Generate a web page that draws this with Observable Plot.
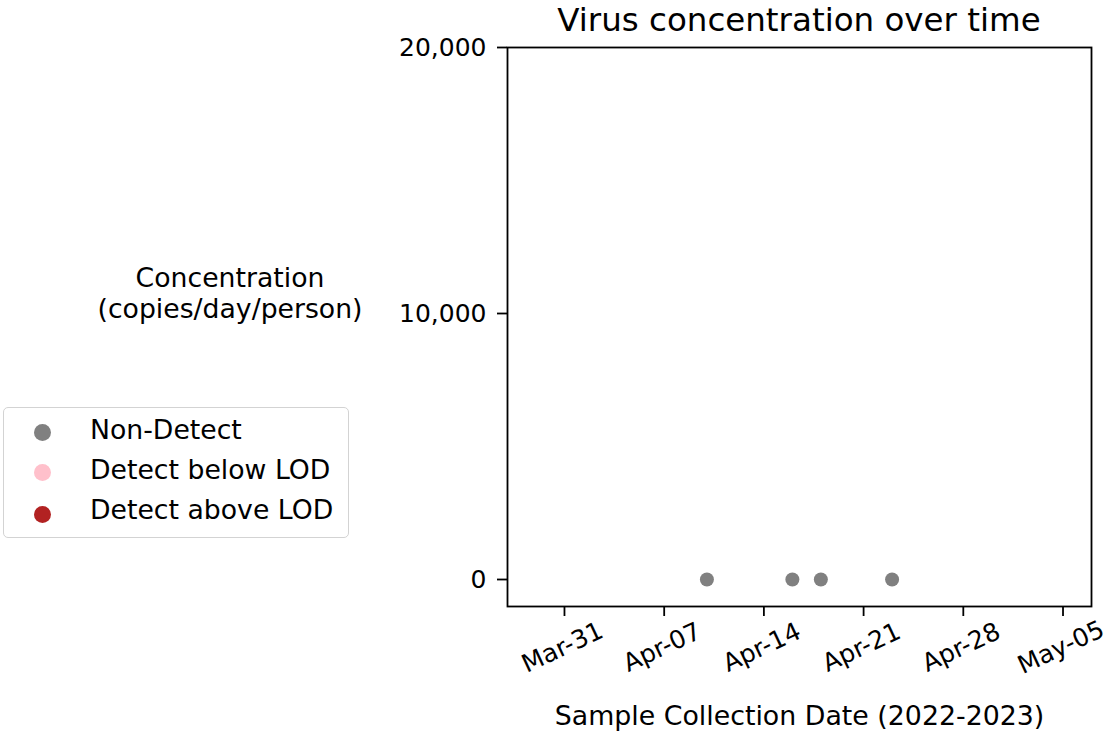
<!DOCTYPE html>
<html>
<head>
<meta charset="utf-8">
<script src="https://cdn.jsdelivr.net/npm/d3@7"></script>
<script src="https://cdn.jsdelivr.net/npm/@observablehq/plot@0.6"></script>
<style>
  html, body { margin: 0; padding: 0; background: #fff; }
  #wrap { position: relative; width: 1112px; height: 731px; font-family: "DejaVu Sans", sans-serif; color: #000; }
  #chart { position: absolute; left: 0; top: 0; }
  .title { position: absolute; left: 507px; width: 584px; top: 1px; text-align: center; font-size: 32.5px; line-height: 38px; }
  .ylabel { position: absolute; left: 60px; width: 340px; top: 262px; text-align: center; font-size: 26.7px; line-height: 31px; }
  .legend { position: absolute; left: 3px; top: 407px; width: 346px; height: 131px; border: 1.5px solid #d3d3d3; border-radius: 5px; box-sizing: border-box; background: #fff; }
  .legend .sw { position: absolute; left: 30px; width: 17px; height: 17px; border-radius: 50%; }
  .legend .lab { position: absolute; left: 86px; white-space: nowrap; font-size: 26.7px; line-height: 40px; }
</style>
</head>
<body>
<div id="wrap">
  <div id="chart"></div>
  <div class="title">Virus concentration over time</div>
  <div class="ylabel">Concentration<br>(copies/day/person)</div>
  <div class="legend" id="legend"></div>
</div>
<script>
// Data
const sampleDates = ["2022-04-10", "2022-04-16", "2022-04-18", "2022-04-23"];
const concentrations = [0, 0, 0, 0];
const detectStatus = ["Non-Detect", "Non-Detect", "Non-Detect", "Non-Detect"];

const categories = ["Non-Detect", "Detect below LOD", "Detect above LOD"];
const categoryColors = ["#808080", "#ffc0cb", "#b22222"];

const xTickDates = ["2022-03-31", "2022-04-07", "2022-04-14", "2022-04-21", "2022-04-28", "2022-05-05"];
const yTicks = [0, 10000, 20000];
const xDomain = ["2022-03-27", "2022-05-07"];
const yDomain = [-1015, 20000];

const parse = d3.utcParse("%Y-%m-%d");
const data = sampleDates.map((d, i) => ({date: parse(d), value: concentrations[i], status: detectStatus[i]}));
const xTicks = xTickDates.map(parse);

const fmtDate = d3.utcFormat("%b-%d");
const fmtNum = d3.format(",");

const chart = Plot.plot({
  width: 1112,
  height: 731,
  marginLeft: 507,
  marginRight: 21,
  marginTop: 47,
  marginBottom: 125,
  style: {fontFamily: "DejaVu Sans, sans-serif", fontSize: "25px", color: "#000", background: "#fff"},
  x: {type: "utc", domain: xDomain.map(parse)},
  y: {domain: yDomain},
  color: {domain: categories, range: categoryColors},
  marks: [
    Plot.frame({stroke: "#000", strokeWidth: 1.8}),
    Plot.axisY({ticks: yTicks, tickFormat: fmtNum, tickSize: 10, tickPadding: 11, label: null, fontSize: 25, strokeWidth: 1.8}),
    // tick marks only
    Plot.axisX({ticks: xTicks, tickSize: 10, tickFormat: () => "", label: null, strokeWidth: 1.8}),
    // rotated tick labels
    Plot.text(xTicks, {x: d => d, frameAnchor: "bottom", text: d => fmtDate(d), rotate: -25,
      textAnchor: "middle", lineAnchor: "middle", dy: 41, dx: -2, fontSize: 25}),
    Plot.text(["Sample Collection Date (2022-2023)"], {frameAnchor: "bottom", dy: 110, fontSize: 26.8, lineAnchor: "middle"}),
    Plot.dot(data, {x: "date", y: "value", fill: "status", r: 7, stroke: "none"})
  ]
});
document.getElementById("chart").appendChild(chart);

const legend = document.getElementById("legend");
categories.forEach((c, i) => {
  const tops = [4, 44, 84];
  const sw = document.createElement("div");
  sw.className = "sw";
  sw.style.top = (tops[i] + 12 + (i === 2 ? 2 : 0)) + "px";
  sw.style.background = categoryColors[i];
  legend.appendChild(sw);
  const lab = document.createElement("div");
  lab.className = "lab";
  lab.style.top = (tops[i] - 2) + "px";
  lab.textContent = c;
  legend.appendChild(lab);
});
</script>
</body>
</html>
